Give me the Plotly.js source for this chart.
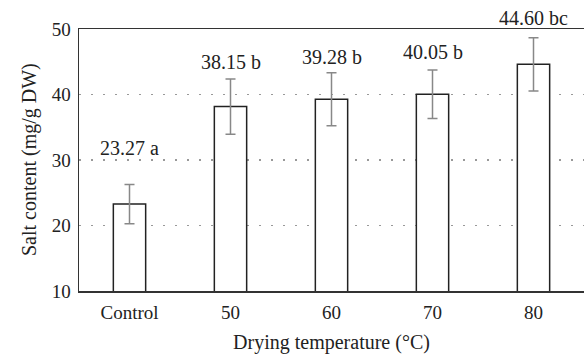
<!DOCTYPE html>
<html><head><meta charset="utf-8">
<script src="https://cdn.plot.ly/plotly-3.0.1.min.js"></script>
<style>html,body{margin:0;padding:0;background:#fff}</style>
</head><body><div id="chart" style="width:584px;height:355px"></div>
<script>
const categories = ["Control", "50", "60", "70", "80"];
const saltContent = [23.27, 38.15, 39.28, 40.05, 44.60];
const errors = [3.0, 4.2, 4.05, 3.7, 4.05];
const letters = ["a", "b", "b", "b", "bc"];
const yTicks = [10, 20, 30, 40, 50];

const font = "'Liberation Serif', 'Times New Roman', serif";
const labelShift = [36, 17, 16, 18, 20];

const annotations = categories.map((c, i) => ({
  x: i, y: saltContent[i] + errors[i], xref: 'x', yref: 'y',
  text: saltContent[i].toFixed(2) + ' ' + letters[i],
  showarrow: false, yanchor: 'middle', yshift: labelShift[i],
  font: {family: font, size: 20, color: '#222'}
}));
annotations.push({
  xref: 'paper', yref: 'paper', x: 0, xshift: -50, y: 0.5,
  text: 'Salt content (mg/g DW)', textangle: -90, showarrow: false,
  xanchor: 'center', yanchor: 'middle',
  font: {family: font, size: 20, color: '#222'}
});

Plotly.newPlot('chart', [{
  type: 'bar', x: categories, y: saltContent, width: 0.32,
  marker: {color: '#fff', line: {color: '#222', width: 1.5}},
  error_y: {type: 'data', array: errors, visible: true, color: '#888', thickness: 1.5, width: 5}
}], {
  width: 584, height: 355,
  margin: {l: 79, r: 0, t: 29, b: 64},
  paper_bgcolor: '#fff', plot_bgcolor: '#fff',
  showlegend: false,
  font: {family: font, size: 19, color: '#222'},
  xaxis: {
    type: 'category', range: [-0.5, 4.5],
    showline: true, linecolor: '#333', linewidth: 1.5, mirror: true,
    ticks: '', ticklen: 0, showgrid: false, ticklabelstandoff: 4,
    tickfont: {family: font, size: 19, color: '#222'},
    title: {text: 'Drying temperature (°C)', font: {family: font, size: 20, color: '#222'}, standoff: 12}
  },
  yaxis: {
    range: [10, 50], tickvals: yTicks, ticktext: yTicks.map(String),
    showline: true, linecolor: '#333', linewidth: 1.5,
    ticks: '', showgrid: true, gridcolor: '#999', griddash: '2px,10px', gridwidth: 1.5,
    zeroline: false, ticklabelstandoff: 3,
    tickfont: {family: font, size: 19, color: '#222'}
  },
  annotations: annotations
}, {displayModeBar: false, staticPlot: true});
</script></body></html>
